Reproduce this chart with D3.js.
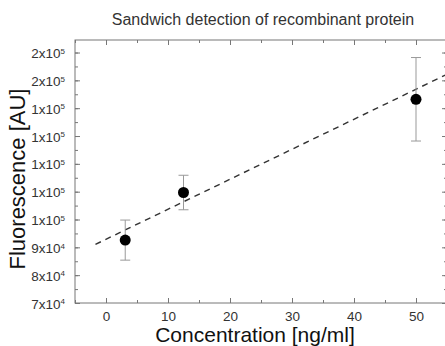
<!DOCTYPE html>
<html>
<head>
<meta charset="utf-8">
<script src="https://cdn.jsdelivr.net/npm/d3@7"></script>
<style>
  body { margin: 0; background: #fff; }
  svg { display: block; font-family: "Liberation Sans", Arial, sans-serif; }
  .axis path, .axis line { stroke: #777; }
  .axis text { fill: #333; }
</style>
</head>
<body>
<div id="chart"></div>
<script>
// data
const concentration = [3.1, 12.5, 50];
const fluorescence = [92600, 109700, 143200];
const errors = [7200, 6200, 15000];
// linear fit (dashed)
const fitRange = [-1.7, 56];
const fitCoef = [92900, 1078];   // intercept, slope
const xTicks = [0, 10, 20, 30, 40, 50];
const yTicks = [70000, 80000, 90000, 100000, 110000, 120000, 130000, 140000, 150000, 160000];

const W = 445, H = 346;
const margin = { top: 40, right: -2, bottom: 43, left: 75 };
const width = W - margin.left - margin.right;
const height = H - margin.top - margin.bottom;

const svg = d3.select('#chart').append('svg')
  .attr('width', W).attr('height', H);

svg.append('text')
  .attr('x', 263).attr('y', 25)
  .attr('text-anchor', 'middle')
  .attr('font-size', 16).attr('fill', '#333')
  .text('Sandwich detection of recombinant protein');

const g = svg.append('g')
  .attr('transform', 'translate(' + margin.left + ',' + margin.top + ')');

const x = d3.scaleLinear().domain([-5, 55]).range([0, width]);
const y = d3.scaleLinear().domain([70000, 164500]).range([height, 0]);

const xMinor = d3.range(-5, 56, 5);
const yMinor = d3.range(70000, 164501, 5000);

// frame
g.append('rect').attr('width', width).attr('height', height)
  .attr('fill', 'none').attr('stroke', '#777');

function ticksOn(axis, minor, size) {
  axis.tickValues(minor).tickSizeInner(-size).tickSizeOuter(0).tickFormat('');
  return axis;
}

// minor ticks
g.append('g').attr('class', 'axis').attr('transform', 'translate(0,' + height + ')')
  .call(ticksOn(d3.axisBottom(x), xMinor, 3)).select('.domain').remove();
g.append('g').attr('class', 'axis')
  .call(ticksOn(d3.axisTop(x), xMinor, 3)).select('.domain').remove();
g.append('g').attr('class', 'axis')
  .call(ticksOn(d3.axisLeft(y), yMinor, 3)).select('.domain').remove();
g.append('g').attr('class', 'axis').attr('transform', 'translate(' + width + ',0)')
  .call(ticksOn(d3.axisRight(y), yMinor, 3)).select('.domain').remove();

// major ticks
const xb = g.append('g').attr('class', 'axis').attr('transform', 'translate(0,' + height + ')')
  .call(d3.axisBottom(x).tickValues(xTicks).tickSizeInner(-5).tickSizeOuter(0).tickPadding(8.5));
xb.select('.domain').remove();
xb.selectAll('text').attr('font-size', 13.5);
g.append('g').attr('class', 'axis')
  .call(d3.axisTop(x).tickValues(xTicks).tickSizeInner(-5).tickSizeOuter(0).tickFormat(''))
  .select('.domain').remove();
const yl = g.append('g').attr('class', 'axis')
  .call(d3.axisLeft(y).tickValues(yTicks).tickSizeInner(-5).tickSizeOuter(0).tickFormat(''));
yl.select('.domain').remove();
g.append('g').attr('class', 'axis').attr('transform', 'translate(' + width + ',0)')
  .call(d3.axisRight(y).tickValues(yTicks).tickSizeInner(-5).tickSizeOuter(0).tickFormat(''))
  .select('.domain').remove();

// y labels like "1x10^5"
yl.selectAll('.tick').each(function(d) {
  const e = Math.floor(Math.log10(d));
  const m = Math.round(d / Math.pow(10, e));
  const t = d3.select(this).append('text')
    .attr('x', -10).attr('dy', '0.38em').attr('text-anchor', 'end')
    .attr('fill', '#333').attr('font-size', 13.5);
  t.append('tspan').text(m + 'x10');
  t.append('tspan').attr('dy', '-0.55em').attr('font-size', 8).text(e);
});

// fit line
g.append('clipPath').attr('id', 'clip').append('rect')
  .attr('width', width).attr('height', height);
const fit = fitRange.map(c => [c, fitCoef[0] + fitCoef[1] * c]);
g.append('path')
  .attr('clip-path', 'url(#clip)')
  .attr('d', d3.line().x(d => x(d[0])).y(d => y(d[1]))(fit))
  .attr('fill', 'none').attr('stroke', '#333').attr('stroke-width', 1.4)
  .attr('stroke-dasharray', '6,5');

// error bars
const pts = concentration.map((c, i) => ({ c: c, v: fluorescence[i], e: errors[i] }));
const eb = g.append('g').attr('stroke', '#999').attr('stroke-width', 1);
eb.selectAll('line.v').data(pts).join('line').attr('class', 'v')
  .attr('x1', d => x(d.c)).attr('x2', d => x(d.c))
  .attr('y1', d => y(d.v - d.e)).attr('y2', d => y(d.v + d.e));
eb.selectAll('line.t').data(pts).join('line').attr('class', 't')
  .attr('x1', d => x(d.c) - 5).attr('x2', d => x(d.c) + 5)
  .attr('y1', d => y(d.v + d.e)).attr('y2', d => y(d.v + d.e));
eb.selectAll('line.b').data(pts).join('line').attr('class', 'b')
  .attr('x1', d => x(d.c) - 5).attr('x2', d => x(d.c) + 5)
  .attr('y1', d => y(d.v - d.e)).attr('y2', d => y(d.v - d.e));

g.selectAll('circle').data(pts).join('circle')
  .attr('cx', d => x(d.c)).attr('cy', d => y(d.v)).attr('r', 5.5).attr('fill', '#000');

// axis titles
svg.append('text')
  .attr('x', 255).attr('y', 342)
  .attr('text-anchor', 'middle').attr('font-size', 21).attr('fill', '#111')
  .text('Concentration [ng/ml]');
svg.append('text')
  .attr('transform', 'translate(25,179) rotate(-90)')
  .attr('text-anchor', 'middle').attr('font-size', 22).attr('fill', '#111')
  .text('Fluorescence [AU]');
</script>
</body>
</html>
